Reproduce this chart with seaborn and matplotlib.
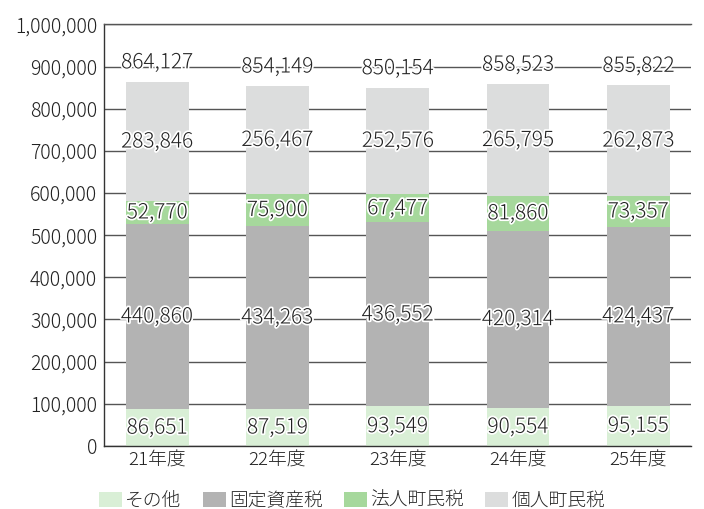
import numpy as np
import pandas as pd
import matplotlib
matplotlib.use("Agg")
import matplotlib.pyplot as plt
import matplotlib.patheffects as pe
from matplotlib.patches import Patch
from matplotlib.ticker import FuncFormatter
import seaborn as sns

# データ
years = ['21年度', '22年度', '23年度', '24年度', '25年度']
sonota = [86651, 87519, 93549, 90554, 95155]        # その他
kotei = [440860, 434263, 436552, 420314, 424437]    # 固定資産税
hojin = [52770, 75900, 67477, 81860, 73357]         # 法人町民税
kojin = [283846, 256467, 252576, 265795, 262873]    # 個人町民税
totals = [864127, 854149, 850154, 858523, 855822]

series_names = ['その他', '固定資産税', '法人町民税', '個人町民税']
colors = ['#d9efd6', '#b3b3b3', '#a6d89c', '#dcdddd']

sns.set_theme(style='white')
plt.rcParams['font.family'] = ['Noto Sans CJK JP', 'DejaVu Sans']
plt.rcParams['font.weight'] = 'light'

df = pd.DataFrame({'year': years, 'その他': sonota, '固定資産税': kotei,
                   '法人町民税': hojin, '個人町民税': kojin})
cum = df[series_names].cumsum(axis=1)

fig = plt.figure(figsize=(7.04, 5.09), dpi=100)
ax = fig.add_axes([0.148, 0.124, 0.833, 0.828])

# 積み上げ（上の層から順に描く）
for name, col in reversed(list(zip(series_names, colors))):
    sns.barplot(x=df['year'], y=cum[name], color=col, width=0.523,
                saturation=1, ax=ax, zorder=2, linewidth=0)

ax.set_xlim(-0.44, 4.435)
ax.set_ylim(0, 1000000)
ax.set_yticks(np.arange(0, 1000001, 100000))
ax.yaxis.set_major_formatter(FuncFormatter(lambda v, p: f'{int(v):,}'))
ax.grid(axis='y', color='#555555', linewidth=1, zorder=0)
ax.set_axisbelow(True)
ax.spines['right'].set_visible(False)
for s in ['left', 'bottom', 'top']:
    ax.spines[s].set_color('#333333')
    ax.spines[s].set_linewidth(1)
ax.spines['top'].set_color('#555555')
ax.tick_params(axis='y', length=0, labelsize=14, colors='#222222', pad=5)
ax.tick_params(axis='x', length=0, labelsize=13.5, colors='#222222', pad=4)
ax.set_xlabel('')
ax.set_ylabel('')

stroke = [pe.withStroke(linewidth=2.5, foreground='white')]
for i in range(len(years)):
    base = 0
    for name in series_names:
        v = df[name][i]
        ax.text(i, base + v / 2, f'{v:,}', ha='center', va='center',
                fontsize=15, color='#222222', path_effects=stroke, zorder=5)
        base += v
    ax.text(i, totals[i] + 46000, f'{totals[i]:,}', ha='center', va='center',
            fontsize=15, color='#222222', path_effects=stroke, zorder=5)

handles = [Patch(facecolor=c, edgecolor='none') for c in colors]
fig.legend(handles, series_names, loc='center', ncol=4, frameon=False,
           bbox_to_anchor=(0.5, 0.016), fontsize=13.5, handlelength=1.23,
           handleheight=0.8, handletextpad=0.16, columnspacing=1.15,
           borderpad=0, borderaxespad=0)

fig.savefig('out.png', dpi=100)
